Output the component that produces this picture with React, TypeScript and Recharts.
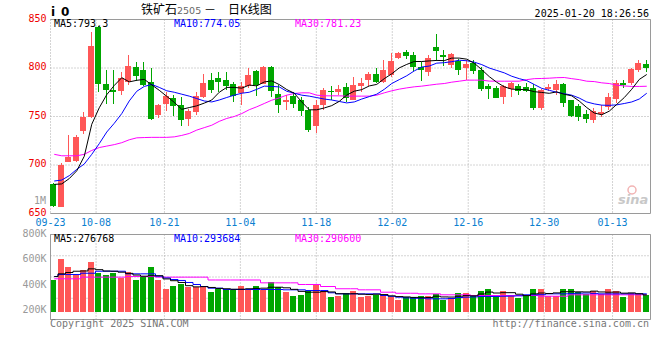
import React from 'react';
import { ComposedChart, Bar, Line, XAxis, YAxis, CartesianGrid, ReferenceLine } from 'recharts';

const DATES = ['09-23','09-24','09-25','09-26','09-27','09-30',
  '10-08','10-09','10-10','10-11','10-14','10-15','10-16','10-17','10-18','10-21','10-22','10-23','10-24','10-25','10-28','10-29','10-30','10-31',
  '11-01','11-04','11-05','11-06','11-07','11-08','11-11','11-12','11-13','11-14','11-15','11-18','11-19','11-20','11-21','11-22','11-25','11-26','11-27','11-28','11-29',
  '12-02','12-03','12-04','12-05','12-06','12-09','12-10','12-11','12-12','12-13','12-16','12-17','12-18','12-19','12-20','12-23','12-24','12-25','12-26','12-27','12-30','12-31',
  '01-02','01-03','01-06','01-07','01-08','01-09','01-10','01-13','01-14','01-15','01-16','01-17','01-20'];

const TICK_LABELS = ['09-23','10-08','10-21','11-04','11-18','12-02','12-16','12-30','01-13'];

const OPEN = [680,657,703,704,735,750,842,783,777,776.5, 786,801,798,786,752,763,769,762,747,755,
  770,787.5,790,787.5,784,774,781,797,784,801, 773,765,771,767,756.5,740,762,776,775.5,780.6,
  767.5,781,787.5,794,786,793,810,817,813,801, 796,822,813,803,807,799.5,805,798,781,779,
  769.6,778,781,780,779,759,778,777,784,767, 761,753,746,752.4,760,768,784.7,785,798,804];
const HIGH = [681,702,731,731,755,837,843,798,798,796, 813,806,806,800,763,775,772,770,758,775,
  794,795,796,796,786,786,800,798,802,802, 782,772,775,770,760,767.5,779,781,782,785,
  791,790,796,800,808,815,817,819,817,806, 813,835,819,815,809,808,808,801,784,781,
  782,786,784,785,784,778,783,787.5,785,767.5, 763,757,759,762,774,787.5,788,800,808,808];
const LOW = [657,657,703,703,732,748,775,763,763,772, 782,787,781,746,748,756,751,740,740,752,
  769,774,775,777,765,762,779,771,783,770, 754,757,759,751,734,733,757,767,772,765,
  767,775,781,785,785,791,809,809,797,787, 792,807,802,800.5,793,788,794,776.5,768,768.6,
  763,770,772,775,757,757,776.5,772,760,750, 745.5,743.5,743.5,750,757,764,779,782,796,796];
const CLOSE = [658,700,708,729,750,823,784,777,775.5,790, 802,792,782,747,762,771,761,746,756,771,
  785,777,786,781,771,781,793,782,801,776.5, 762,767.5,763,756,736,762,777,775,778,768.6,
  782,785,794,786,798,807,815.6,812,801,798, 810,818,811,814,798,804.6,797,778,778,769,
  781,785,776.5,776.5,759,777,780.6,784,764,751, 750,747,756,754.8,769.6,785,782.3,799,805,800.5];

const MA5 = [680,680.5,686,694,709,742,759,772.5,782,790, 785.7,787.3,788.3,782.6,777,770.8,764.6,757.4,759.2,761,
  763.8,767,775,780,780,779.2,782.4,781.6,785.6,786.7, 782.9,777.8,774,765,756.9,756.9,758.8,761.2,765.6,772.1,
  776.1,777.7,781.5,783.1,789,794,800.1,803.7,806.7,806.7, 807.3,807.8,807.6,810.2,810.2,809.1,804.9,798.3,791.1,785.3,
  780.6,778.2,777.9,777.6,775.6,774.8,773.9,775.4,772.9,771.3, 765.9,759.2,753.6,751.8,755.5,762.5,769.5,778.1,788.2,793.3];
const MA10 = [683.5,684.5,689,695.5,701,711,722,734,743,753, 766,776,781,783,780,776.5,775,773,771,768.5,
  766,765,767,769.6,772,774,775,778,781.3,781, 780.5,776,774,772,771,769.5,768,767,765.5,764,
  765,768,770.5,773,778,784,788,792,797,801, 802,805,805.5,806.5,808,807.5,806,803.5,800,797.5,
  795,791.5,789,787,783,779,777,775,773.5,772, 769,765,763,761.7,761.5,762,763.4,765,768,774];
const MA30 = [711,709.5,709.5,709.5,711,715,718,719.5,721,723, 726,728,728.3,728.5,728.5,728.5,729,730.5,732.5,736,
  738.5,741,745,748,750,753,757,760,763.4,766.8, 769.2,772,773.7,774.4,774.4,772,771.3,771.3,771.3,771,
  771,771,771,772,774.4,776.5,778.2,779.5,780.6,781.3, 782.3,783.3,784,785.4,786.4,787.5,787.5,787.5,786.5,786.4,
  786.4,786.4,786.4,788,789,789.2,789.5,790,790.2,789, 788,786.4,786,784.7,784,782.3,781.5,781,781,781.2];

const VOLUME = [420000,589000,524000,460000,504000,572000,473000,454000,478000,436000,
  486000,412000,440000,522000,416000,337000,369000,378000,355000,358000,
  369000,313000,342000,333000,333000,369000,333000,369000,333000,397000,
  355000,313000,285000,293000,327000,378000,321000,271000,279000,304000,
  327000,271000,285000,291000,291000,271000,243000,271000,271000,277000,
  277000,299000,243000,266000,310000,304000,285000,327000,344000,271000,
  319000,285000,262000,285000,344000,336000,285000,285000,336000,344000,
  313000,299000,319000,299000,336000,319000,271000,310000,299000,291000];
const VMA5 = [445000,468000,479000,490000,492000,510000,503000,492000,490000,482000,
  472000,458000,448000,452000,452000,425000,410000,395000,368000,358000,
  360000,353000,345000,342000,338000,338000,342000,345000,347000,355000,
  355000,350000,337000,320000,313000,313000,318000,315000,300000,299000,
  300000,296000,293000,296000,293000,282000,276000,273000,269000,266000,
  268000,279000,273000,272000,279000,284000,282000,298000,314000,306000,
  309000,309000,296000,284000,299000,306000,302000,307000,317000,317000,
  316000,315000,322000,315000,313000,314000,305000,307000,300000,290000];
const VMA10 = [445000,462000,462000,462000,473000,473000,490000,490000,490000,490000,
  468000,468000,468000,468000,448000,433000,420000,412000,395000,378000,
  361000,347000,347000,336000,336000,336000,336000,336000,336000,336000,
  336000,333000,333000,333000,327000,327000,327000,308000,299000,299000,
  299000,299000,299000,299000,285000,278000,271000,265000,262000,262000,
  257000,257000,257000,260000,268000,271000,273000,277000,277000,277000,
  279000,280000,282000,291000,291000,292000,299000,299000,299000,301000,
  305000,306000,303000,299000,299000,299000,299000,299000,299000,299000];
const VMA30 = [426000,426000,426000,426000,440000,440000,440000,440000,440000,440000,
  445000,445000,445000,445000,440000,440000,440000,440000,440000,440000,
  440000,416000,416000,416000,416000,416000,416000,416000,392000,392000,
  392000,392000,392000,378000,378000,378000,361000,361000,342000,342000,
  342000,333000,333000,333000,313000,313000,304000,304000,304000,299000,
  299000,299000,291000,291000,291000,291000,285000,285000,285000,285000,
  285000,285000,285000,285000,285000,279000,279000,279000,279000,291000,
  291000,291000,291000,291000,291000,291000,291000,291000,291000,291000];

const PRICE_TICKS = [650, 700, 750, 800, 850];
const PRICE_DOMAIN = [650, 850];
const VOL_TICKS = [200000, 400000, 600000, 800000];
const VOL_BASE = 150000;
const VOL_DOMAIN = [82500, 800000];
const VOL_LABEL_DOMAIN = [137662, 800000];
const VOL_GRID_TICKS = [0, 1, 2, 3, 4];

const TITLE_NAME = '铁矿石';
const TITLE_CODE = '2505';
const TITLE_KIND = '日K线图';
const SYMBOL = ['i', '0'];
const TIMESTAMP = '2025-01-20 18:26:56';
const PRICE_LEGEND = ['MA5:793.3', 'MA10:774.05', 'MA30:781.23'];
const VOL_LEGEND = ['MA5:276768', 'MA10:293684', 'MA30:290600'];
const COPYRIGHT = 'Copyright 2025 SINA.COM';
const SITE = 'http://finance.sina.com.cn';

const RED = '#ff5757';
const GREEN = '#00a600';
const MA_COLORS = ['#000000', '#0000ff', '#ff00ff'];
const GRID = '#a8a8a8';
const FRAME = '#9a9a9a';
const MONO = "'DejaVu Sans Mono', 'Liberation Mono', monospace";
const CJK = "'Noto Sans CJK SC', sans-serif";

const DATE_TICKS = TICK_LABELS.map((d) => DATES.indexOf(d));
const LAST = DATES.length - 1;

const priceRows = DATES.map((date, i) => ({
  date,
  range: [LOW[i], HIGH[i]],
  open: OPEN[i], high: HIGH[i], low: LOW[i], close: CLOSE[i],
  ma5: MA5[i], ma10: MA10[i], ma30: MA30[i],
}));

const volRows = DATES.map((date, i) => ({
  date,
  vol: [VOL_BASE, VOLUME[i]],
  up: CLOSE[i] >= OPEN[i],
  vma5: VMA5[i], vma10: VMA10[i], vma30: VMA30[i],
}));

const Candle = (p: any) => {
  const { x, y, width, height, payload } = p;
  if (x == null || y == null || !payload) return null;
  const { open, close, high, low } = payload;
  const color = close >= open ? RED : GREEN;
  const k = high > low ? height / (high - low) : 0;
  const left = Math.ceil(x - 0.5);
  const bw = Math.round(width * 0.8);
  const wickX = left + Math.floor(bw / 2);
  const yTop = Math.round(y);
  const yBot = Math.round(y + height);
  const bTop = Math.round(y + (high - Math.max(open, close)) * k);
  const bBot = Math.round(y + (high - Math.min(open, close)) * k);
  return (
    <g shapeRendering="crispEdges">
      <rect x={wickX} y={yTop} width={1} height={Math.max(1, yBot - yTop)} fill={color} />
      <rect x={left} y={bTop} width={bw} height={Math.max(1, bBot - bTop)} fill={color} />
    </g>
  );
};

const VolBar = (p: any) => {
  const { x, y, width, height, payload } = p;
  if (x == null || y == null || !payload) return null;
  const left = Math.ceil(x - 0.5);
  const bw = Math.round(width * 0.8);
  const top = Math.round(y);
  const bot = Math.round(y + height);
  return <rect x={left} y={top} width={bw} height={Math.max(1, bot - top)} fill={payload.up ? RED : GREEN} shapeRendering="crispEdges" />;
};

const PriceTick = (p: any) => (
  <text x={p.x} y={p.y + 2} textAnchor="end" fill="#ee0000" fontSize={10} fontFamily={MONO}>{p.payload.value}</text>
);

const VolTick = (p: any) => (
  <text x={p.x} y={p.y + 2} textAnchor="end" fill="#999" fontSize={10} fontFamily={MONO}>{`${Math.round(p.payload.value / 1000)}K`}</text>
);

export default function App() {
  return (
    <div style={{ position: 'fixed', left: 0, top: 0, width: 660, height: 360, background: '#fff', overflow: 'hidden' }}>
      <div style={{ position: 'absolute', left: 0, top: 0 }}>
        <ComposedChart width={660} height={232.5} data={priceRows} margin={{ top: 19.5, right: 9.5, bottom: 0, left: 0.5 }} barCategoryGap={0}>
          <CartesianGrid xAxisId="date" yAxisId="price" stroke={GRID} strokeDasharray="1 2" />
          <XAxis xAxisId="date" type="number" domain={[0, LAST]} allowDataOverflow ticks={DATE_TICKS} interval={0}
            tickFormatter={(v: number) => DATES[v]} tickLine={false} tickSize={0} tickMargin={5} height={19}
            axisLine={{ stroke: FRAME }} tick={{ fill: '#0a80d0', fontSize: 10, fontFamily: MONO }} />
          <XAxis xAxisId="cat" dataKey="date" hide height={0} />
          <YAxis yAxisId="price" domain={PRICE_DOMAIN} allowDataOverflow ticks={PRICE_TICKS} interval={0} width={50}
            axisLine={false} tickLine={false} tickSize={0} tickMargin={4} tick={<PriceTick />} />
          <ReferenceLine xAxisId="date" yAxisId="price" y={PRICE_DOMAIN[1]} stroke={FRAME} />
          <ReferenceLine xAxisId="date" yAxisId="price" x={LAST} stroke={FRAME} />
          <Bar xAxisId="cat" yAxisId="price" dataKey="range" shape={(p: any) => <Candle {...p} />} isAnimationActive={false} />
          <Line xAxisId="cat" yAxisId="price" dataKey="ma30" stroke={MA_COLORS[2]} strokeWidth={1} dot={false} isAnimationActive={false} />
          <Line xAxisId="cat" yAxisId="price" dataKey="ma10" stroke={MA_COLORS[1]} strokeWidth={1} dot={false} isAnimationActive={false} />
          <Line xAxisId="cat" yAxisId="price" dataKey="ma5" stroke={MA_COLORS[0]} strokeWidth={1} dot={false} isAnimationActive={false} />
        </ComposedChart>
      </div>
      <div style={{ position: 'absolute', left: 0, top: 0 }}>
        <ComposedChart width={660} height={360} data={volRows} margin={{ top: 234.5, right: 9.5, bottom: 40.5, left: 0.5 }} barCategoryGap={0}>
          <CartesianGrid xAxisId="date" yAxisId="grid" stroke={GRID} strokeDasharray="1 2" />
          <XAxis xAxisId="date" type="number" domain={[0, LAST]} allowDataOverflow ticks={DATE_TICKS} interval={0} hide height={0} />
          <XAxis xAxisId="cat" dataKey="date" hide height={0} />
          <YAxis yAxisId="lab" domain={VOL_LABEL_DOMAIN} allowDataOverflow ticks={VOL_TICKS} interval={0} width={50}
            axisLine={false} tickLine={false} tickSize={0} tickMargin={4} tick={<VolTick />} />
          <YAxis yAxisId="vol" domain={VOL_DOMAIN} allowDataOverflow hide width={0} />
          <YAxis yAxisId="grid" domain={[0, 4]} allowDataOverflow ticks={VOL_GRID_TICKS} interval={0} hide width={0} />
          <ReferenceLine xAxisId="date" yAxisId="grid" y={4} stroke={FRAME} />
          <ReferenceLine xAxisId="date" yAxisId="grid" y={0} stroke={FRAME} />
          <ReferenceLine xAxisId="date" yAxisId="grid" x={0} stroke={FRAME} />
          <ReferenceLine xAxisId="date" yAxisId="grid" x={LAST} stroke={FRAME} />
          <Bar xAxisId="cat" yAxisId="vol" dataKey="vol" shape={(p: any) => <VolBar {...p} />} isAnimationActive={false} />
          <Line xAxisId="cat" yAxisId="vol" type="step" dataKey="vma30" stroke={MA_COLORS[2]} strokeWidth={1} dot={false} isAnimationActive={false} />
          <Line xAxisId="cat" yAxisId="vol" type="step" dataKey="vma10" stroke={MA_COLORS[1]} strokeWidth={1} dot={false} isAnimationActive={false} />
          <Line xAxisId="cat" yAxisId="vol" type="step" dataKey="vma5" stroke={MA_COLORS[0]} strokeWidth={1} dot={false} isAnimationActive={false} />
        </ComposedChart>
      </div>
      <svg width={660} height={360} style={{ position: 'absolute', left: 0, top: 0, pointerEvents: 'none' }}>
        <text x={51} y={16} fontSize={12} fontWeight="bold" fontFamily="'DejaVu Sans', sans-serif" fill="#000">{SYMBOL[0]}</text>
        <text x={61} y={16} fontSize={12} fontWeight="bold" fontFamily="'DejaVu Sans', sans-serif" fill="#000">{SYMBOL[1]}</text>
        <text x={141} y={14} fontSize={12} fontFamily={CJK} fill="#000">{TITLE_NAME}</text>
        <text x={177} y={14} fontSize={9.5} fontFamily="'DejaVu Sans', sans-serif" fill="#666">{TITLE_CODE}</text>
        <text x={204} y={14} fontSize={12} fontFamily={CJK} fill="#000">－</text>
        <text x={228} y={14} fontSize={12} fontFamily={CJK} fill="#000">{TITLE_KIND}</text>
        <text x={649} y={16.5} textAnchor="end" fontSize={10} fontFamily={MONO} fill="#000">{TIMESTAMP}</text>
        {PRICE_LEGEND.map((t, i) => (
          <text key={t} x={[54, 174, 295][i]} y={27.3} fontSize={10} fontFamily={MONO} fill={MA_COLORS[i]}>{t}</text>
        ))}
        {VOL_LEGEND.map((t, i) => (
          <text key={t} x={[54, 174, 295][i]} y={242.3} fontSize={10} fontFamily={MONO} fill={MA_COLORS[i]}>{t}</text>
        ))}
        <text x={46} y={204} textAnchor="end" fontSize={10} fontFamily={MONO} fill="#999">1M</text>
        <text x={50} y={326.5} fontSize={10} fontFamily={MONO} fill="#777">{COPYRIGHT}</text>
        <text x={649} y={326.5} textAnchor="end" fontSize={10} fontFamily={MONO} fill="#777">{SITE}</text>
        <circle cx={632} cy={190} r={4} fill="none" stroke="#f2b4b4" strokeWidth={1.5} />
        <text x={618} y={204} fontSize={13} fontStyle="italic" fontWeight="bold" fontFamily="'DejaVu Sans', sans-serif" fill="#c8c8c8">sina</text>
      </svg>
    </div>
  );
}
